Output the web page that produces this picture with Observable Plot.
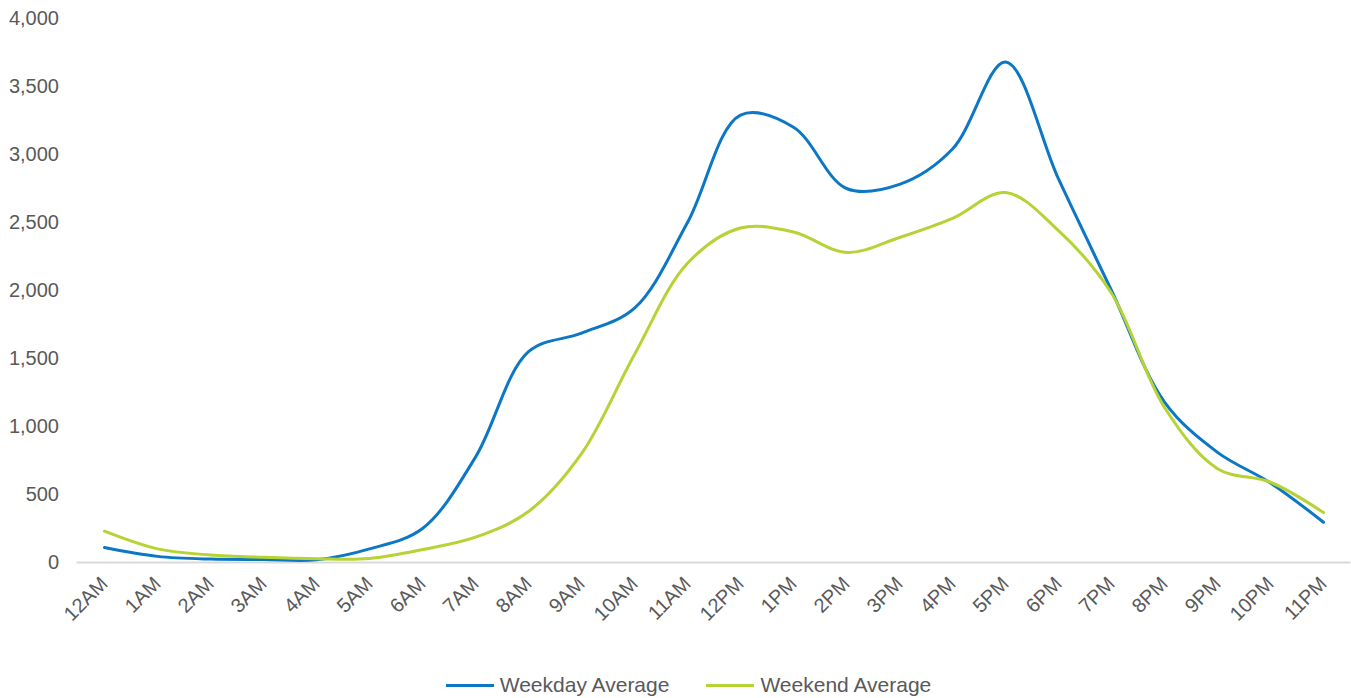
<!DOCTYPE html>
<html><head><meta charset="utf-8">
<script src="https://cdn.jsdelivr.net/npm/d3@7"></script>
<script src="https://cdn.jsdelivr.net/npm/@observablehq/plot@0.6"></script>
<style>
body{margin:0;background:#fff;font-family:"Liberation Sans",Arial,sans-serif;overflow:hidden;}
#legend{position:absolute;left:0;width:1351px;top:672px;display:flex;justify-content:center;gap:37px;font-size:21px;color:#595959;height:26px;align-items:center;padding-left:26px;box-sizing:border-box}
#legend span{display:inline-flex;align-items:center;}
#legend i{display:inline-block;width:48px;height:3px;margin-right:6px}
</style></head><body>
<div id="chart"></div>
<div id="legend"></div>
<script>
const hours = ["12AM","1AM","2AM","3AM","4AM","5AM","6AM","7AM","8AM","9AM","10AM","11AM","12PM","1PM","2PM","3PM","4PM","5PM","6PM","7PM","8PM","9PM","10PM","11PM"];
const weekday = [110,45,25,22,20,100,250,775,1550,1686,1870,2500,3290,3200,2750,2780,3040,3680,2820,2000,1180,810,585,296];
const weekend = [230,100,55,38,28,30,95,186,375,800,1530,2200,2460,2430,2280,2390,2530,2720,2440,1980,1140,690,590,367];
const seriesNames = ["Weekday Average","Weekend Average"];
const colors = ["#0B77C5","#B5D334"];
const yTicks = [0,500,1000,1500,2000,2500,3000,3500,4000];

const rows = [];
hours.forEach((h,i)=>{
  rows.push({hour:h, value:weekday[i], series:seriesNames[0]});
  rows.push({hour:h, value:weekend[i], series:seriesNames[1]});
});

const chart = Plot.plot({
  width:1351, height:665,
  marginLeft:76.5, marginRight:0.5, marginTop:18, marginBottom:103,
  style:{fontFamily:"Liberation Sans, Arial, sans-serif", fontSize:"20px", color:"#595959", background:"#fff"},
  x:{type:"point", domain:hours, padding:0.5, label:null},
  y:{domain:[0,4000], label:null},
  color:{domain:seriesNames, range:colors},
  marks:[
    Plot.axisY({ticks:yTicks, tickSize:0, tickPadding:18, tickFormat:d3.format(","), label:null, fontSize:20}),
    Plot.axisX({tickSize:0, tickPadding:18, tickRotate:-45, label:null, fontSize:20}),
    Plot.ruleY([0],{stroke:"#d9d9d9", strokeWidth:2}),
    Plot.line(rows,{x:"hour", y:"value", z:"series", stroke:"series", strokeWidth:3, curve:"catmull-rom"})
  ]
});
document.getElementById("chart").appendChild(chart);

const lg = document.getElementById("legend");
seriesNames.forEach((n,i)=>{
  const s = document.createElement("span");
  s.innerHTML = `<i style="background:${colors[i]}"></i>${n}`;
  lg.appendChild(s);
});
</script>
</body></html>
